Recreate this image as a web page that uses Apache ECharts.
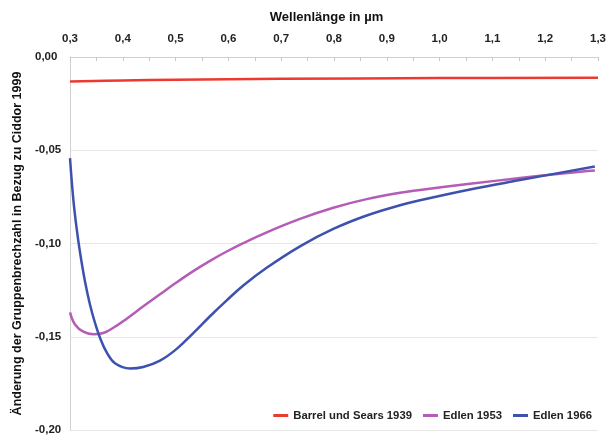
<!DOCTYPE html>
<html><head><meta charset="utf-8">
<script src="https://cdn.jsdelivr.net/npm/echarts@6/dist/echarts.min.js"></script>
<style>html,body{margin:0;padding:0;background:#fff}#c{width:610px;height:436px}</style>
</head><body><div id="c"></div>
<script>
const xTitle = 'Wellenlänge in µm';
const yTitle = 'Änderung der Gruppenbrechzahl in Bezug zu Ciddor 1999';
const seriesNames = ['Barrel und Sears 1939', 'Edlen 1953', 'Edlen 1966'];
const redX = [0.30, 0.40, 0.50, 0.70, 1.00, 1.30];
const redY = [-0.0132, -0.0126, -0.0122, -0.0117, -0.0113, -0.0111];
const pinkX = [0.300, 0.3095, 0.3252, 0.3441, 0.3631, 0.3820, 0.4074, 0.4388, 0.4705, 0.5021, 0.5335, 0.5652, 0.5968, 0.6282, 0.6725, 0.7356, 0.7987, 0.8619, 0.925, 0.9629, 1.0576, 1.1523, 1.228, 1.294];
const pinkY = [-0.1369, -0.1434, -0.1473, -0.1487, -0.1480, -0.1452, -0.1403, -0.1337, -0.1272, -0.1208, -0.1148, -0.1093, -0.1043, -0.0998, -0.0940, -0.0868, -0.0808, -0.0762, -0.0728, -0.0713, -0.0680, -0.0649, -0.0626, -0.0609];
const blueX = [0.300, 0.3063, 0.3127, 0.3189, 0.3284, 0.3379, 0.3473, 0.3568, 0.3695, 0.3852, 0.4136, 0.4388, 0.4705, 0.5021, 0.5335, 0.5652, 0.5968, 0.6282, 0.6725, 0.7356, 0.7987, 0.8619, 0.925, 0.9629, 1.0576, 1.1523, 1.294];
const blueY = [-0.0542, -0.0763, -0.0922, -0.1046, -0.1204, -0.1328, -0.1425, -0.1505, -0.1584, -0.1642, -0.1670, -0.1662, -0.1628, -0.1565, -0.1480, -0.1390, -0.1305, -0.1225, -0.1130, -0.1015, -0.0922, -0.0850, -0.0795, -0.0768, -0.0710, -0.0660, -0.0587];
const colors = ['#ec3a33', '#b45cb6', '#3d51ae'];

const pair = (xs, ys) => xs.map((x, i) => [x, ys[i]]);
const font = '"Liberation Sans", Arial, sans-serif';
const chart = echarts.init(document.getElementById('c'));
const lineSeries = (i, xs, ys) => ({
  name: seriesNames[i], type: 'line', smooth: 0.4, showSymbol: false,
  data: pair(xs, ys), lineStyle: {width: 2.5}, color: colors[i]
});
chart.setOption({
  animation: false,
  grid: {left: 70, right: 12, top: 57, bottom: 3},
  legend: {
    data: seriesNames, right: 13, top: 405, itemGap: 11, itemWidth: 15, itemHeight: 3, icon: 'rect',
    textStyle: {fontFamily: font, fontWeight: 'bold', fontSize: 11.3, color: '#222'}
  },
  xAxis: {
    type: 'value', position: 'top', min: 0.3, max: 1.3, interval: 0.1,
    name: xTitle, nameLocation: 'middle', nameGap: 33,
    nameTextStyle: {fontFamily: font, fontWeight: 'bold', fontSize: 13, color: '#111', padding: [0, 15, 0, 0]},
    axisLine: {show: true, lineStyle: {color: '#d0d0d0'}},
    axisTick: {show: true, inside: true, length: 4, lineStyle: {color: '#c8c8c8'}},
    minorTick: {show: true, splitNumber: 2, length: 4, lineStyle: {color: '#c8c8c8'}},
    splitLine: {show: false},
    axisLabel: {fontFamily: font, fontWeight: 'bold', fontSize: 11.5, color: '#222', margin: 12,
      formatter: v => v.toFixed(1).replace('.', ',')}
  },
  yAxis: {
    type: 'value', min: -0.2, max: 0, interval: 0.05,
    name: yTitle, nameLocation: 'middle', nameGap: 45, nameRotate: 90,
    nameTextStyle: {fontFamily: font, fontWeight: 'bold', fontSize: 12.5, color: '#111'},
    axisLine: {show: true, lineStyle: {color: '#d0d0d0'}},
    axisTick: {show: false},
    splitLine: {show: true, lineStyle: {color: '#e6e6e6'}},
    axisLabel: {fontFamily: font, fontWeight: 'bold', fontSize: 11.5, color: '#222', margin: 35, align: 'left',
      formatter: v => (Math.abs(v) < 1e-9 ? 0 : v).toFixed(2).replace('.', ',')}
  },
  series: [
    lineSeries(0, redX, redY),
    lineSeries(1, pinkX, pinkY),
    lineSeries(2, blueX, blueY)
  ]
});
</script></body></html>
